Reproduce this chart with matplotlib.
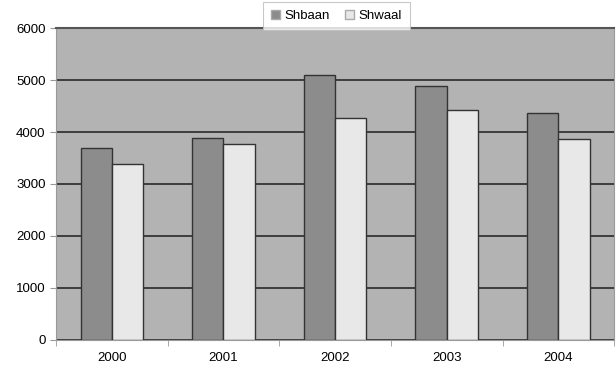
import numpy as np
import matplotlib.pyplot as plt

plt.rcParams["font.family"] = ["Liberation Sans", "DejaVu Sans"]

years = ["2000", "2001", "2002", "2003", "2004"]
shbaan = [3700, 3880, 5100, 4880, 4360]
shwaal = [3380, 3770, 4270, 4420, 3870]
colors = {"Shbaan": "#8c8c8c", "Shwaal": "#e8e8e8"}

fig = plt.figure(figsize=(6.16, 3.71), dpi=100)
ax = fig.add_axes([0.091, 0.0836, 0.906, 0.8409])
ax.set_facecolor("#b3b3b3")

x = np.arange(len(years))
width = 0.28
ax.bar(x - width / 2, shbaan, width, color=colors["Shbaan"], edgecolor="#333333",
       linewidth=1.0, label="Shbaan", zorder=3)
ax.bar(x + width / 2, shwaal, width, color=colors["Shwaal"], edgecolor="#333333",
       linewidth=1.0, label="Shwaal", zorder=3)

ax.set_xlim(-0.5, len(years) - 0.5)
ax.set_ylim(0, 6000)
ax.set_yticks(range(0, 6001, 1000))
ax.set_xticks(x)
ax.set_xticklabels(years)
ax.set_xticks(np.arange(-0.5, len(years), 1), minor=True)
ax.tick_params(axis="x", which="major", length=0, pad=9, labelsize=9.5)
ax.tick_params(axis="x", which="minor", length=4, color="#999999")
ax.tick_params(axis="y", length=4, color="#999999", labelsize=9.5)
ax.yaxis.grid(True, color="#2a2a2a", linewidth=1.2, zorder=1)
ax.set_axisbelow(True)

for side in ["left", "right", "bottom"]:
    ax.spines[side].set_color("#999999")
ax.spines["top"].set_color("#555555")
ax.spines["top"].set_linewidth(1.5)

leg = fig.legend(loc="lower center", bbox_to_anchor=(0.546, 0.92), ncol=2,
                 frameon=True, fancybox=False, fontsize=9.5, handlelength=0.7,
                 handleheight=0.7, handletextpad=0.3, columnspacing=1.2,
                 borderpad=0.6, borderaxespad=0)
leg.get_frame().set_edgecolor("#bbbbbb")
leg.get_frame().set_linewidth(0.8)
for h in leg.legend_handles:
    h.set_edgecolor("#aaaaaa")

fig.savefig("out.png", dpi=100)
